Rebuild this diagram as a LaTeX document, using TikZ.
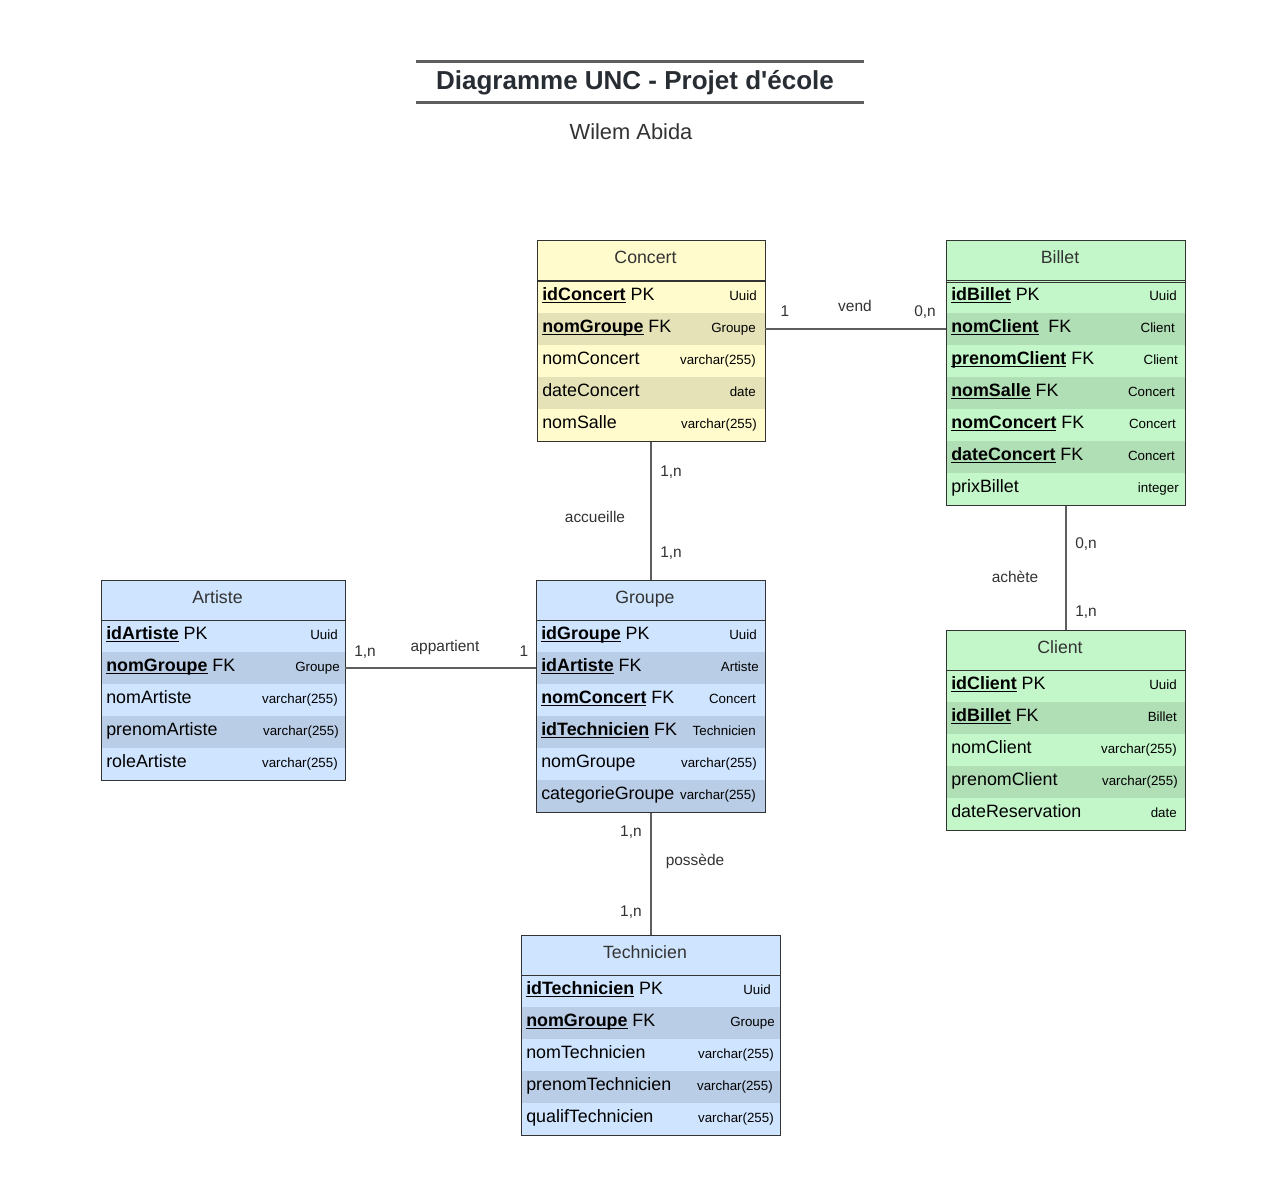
\documentclass[tikz,border=0pt]{standalone}
\usepackage{fontspec}
\setmainfont{Liberation Sans}
\newfontfamily\rawsans{Liberation Sans}
\usetikzlibrary{fit}
\definecolor{ylw}{HTML}{FFFBCC}
\definecolor{ylwd}{HTML}{E6E2B8}
\definecolor{grn}{HTML}{C3F7C9}
\definecolor{grnd}{HTML}{B0DEB5}
\definecolor{blu}{HTML}{CFE4FF}
\definecolor{blud}{HTML}{BACDE6}
\definecolor{bordc}{HTML}{333333}
\definecolor{connc}{HTML}{5E5E5E}
\definecolor{headc}{HTML}{333333}
\definecolor{titlec}{HTML}{282C33}
\newsavebox{\mykbox}
\newcommand\kb[1]{\sbox\mykbox{\textbf{#1}}\rlap{\rule[-2.5pt]{\wd\mykbox}{1.2pt}}\usebox\mykbox}
\tikzset{
  lt/.style={font=\fontsize{13.4}{15}\selectfont, inner sep=0pt, text=black},
  rt/.style={font=\fontsize{10}{12}\selectfont, inner sep=0pt, text=black},
  ht/.style={font=\fontsize{13.3}{15}\selectfont, inner sep=0pt, text=headc},
  lbl/.style={font=\fontsize{11.6}{14}\selectfont, inner sep=0pt, text=headc},
  rowbg/.style={inner sep=0pt, draw=none},
  tblborder/.style={inner sep=0pt, draw=bordc, line width=0.75pt},
  conn/.style={draw=connc, line width=1.5pt},
  titleline/.style={draw=connc, line width=2.25pt}
}
% #1 name #2 idx #3 left #4 right #5 header bottom #6 fill #7 left text #8 type text #9 right offset
\newcommand\trow[9]{%
  \node[rowbg, fill=#6, fit={(#3,{#5+32*(#2-1)}) (#4,{#5+32*#2})}] (#1-r#2) {};
  \node[lt, anchor=base west] (#1-r#2-l) at ({#3+5},{#5+32*(#2-1)+19}) {#7};
  \node[rt, anchor=base east] (#1-r#2-t) at ({#4-#9},{#5+32*(#2-1)+19}) {#8};
}
% #1 name #2 left #3 right #4 top #5 header bottom #6 fill #7 title
\newcommand\thead[7]{%
  \node[rowbg, fill=#6, fit={(#2,#4) (#3,#5)}] (#1-h) {};
  \node[ht, anchor=base] (#1-title) at ({(#2+#3)/2-5.5},{#4+23.3}) {#7};
}
\begin{document}
\begin{tikzpicture}[x=0.75pt, y=-0.75pt]
\useasboundingbox[fill=white] (0,0) rectangle (1286,1190);

% Title
\draw[titleline] (416,61) -- (864,61);
\draw[titleline] (416,102) -- (864,102);
\node[inner sep=0pt, anchor=base, text=titlec, font=\rawsans\fontsize{19.5}{22}\selectfont\bfseries] (title) at (635,89) {Diagramme UNC - Projet d'école};
\node[inner sep=0pt, anchor=base, text=headc, font=\fontsize{16.4}{19}\selectfont] (author) at (631,139) {Wilem Abida};

% Concert
\thead{concert}{537}{765}{240}{281}{ylw}{Concert}
\trow{concert}{1}{537}{765}{281}{ylw}{\kb{idConcert} PK}{Uuid}{8}
\trow{concert}{2}{537}{765}{281}{ylwd}{\kb{nomGroupe} FK}{Groupe}{9}
\trow{concert}{3}{537}{765}{281}{ylw}{nomConcert}{varchar(255)}{9}
\trow{concert}{4}{537}{765}{281}{ylwd}{dateConcert}{date}{9}
\trow{concert}{5}{537}{765}{281}{ylw}{nomSalle}{varchar(255)}{8}
\node[tblborder, fit={(537,240) (765,441)}] (concert) {};
\draw[draw=bordc, line width=1.5pt] (concert-h.south west) -- (concert-h.south east);

% Billet
\thead{billet}{946}{1185}{240}{281}{grn}{Billet}
\trow{billet}{1}{946}{1185}{281}{grn}{\kb{idBillet} PK}{Uuid}{8}
\trow{billet}{2}{946}{1185}{281}{grnd}{\kb{nomClient}\hspace{0.55em}FK}{Client}{10}
\trow{billet}{3}{946}{1185}{281}{grn}{\kb{prenomClient} FK}{Client}{7}
\trow{billet}{4}{946}{1185}{281}{grnd}{\kb{nomSalle} FK}{Concert}{10}
\trow{billet}{5}{946}{1185}{281}{grn}{\kb{nomConcert} FK}{Concert}{9}
\trow{billet}{6}{946}{1185}{281}{grnd}{\kb{dateConcert} FK}{Concert}{10}
\trow{billet}{7}{946}{1185}{281}{grn}{prixBillet}{integer}{6}
\node[tblborder, fit={(946,240) (1185,505)}] (billet) {};
\draw[draw=bordc, line width=0.75pt] ([yshift=0.9pt]billet-h.south west) -- ([yshift=0.9pt]billet-h.south east);
\draw[draw=bordc, line width=0.75pt] ([yshift=-0.9pt]billet-h.south west) -- ([yshift=-0.9pt]billet-h.south east);

% Artiste
\thead{artiste}{101}{345}{580}{620}{blu}{Artiste}
\trow{artiste}{1}{101}{345}{620}{blu}{\kb{idArtiste} PK}{Uuid}{7}
\trow{artiste}{2}{101}{345}{620}{blud}{\kb{nomGroupe} FK}{Groupe}{5}
\trow{artiste}{3}{101}{345}{620}{blu}{nomArtiste}{varchar(255)}{7}
\trow{artiste}{4}{101}{345}{620}{blud}{prenomArtiste}{varchar(255)}{6}
\trow{artiste}{5}{101}{345}{620}{blu}{roleArtiste}{varchar(255)}{7}
\node[tblborder, fit={(101,580) (345,780)}] (artiste) {};
\draw[draw=bordc, line width=0.75pt] (artiste-h.south west) -- (artiste-h.south east);

% Groupe
\thead{groupe}{536}{765}{580}{620}{blu}{Groupe}
\trow{groupe}{1}{536}{765}{620}{blu}{\kb{idGroupe} PK}{Uuid}{8}
\trow{groupe}{2}{536}{765}{620}{blud}{\kb{idArtiste} FK}{Artiste}{6}
\trow{groupe}{3}{536}{765}{620}{blu}{\kb{nomConcert} FK}{Concert}{9}
\trow{groupe}{4}{536}{765}{620}{blud}{\kb{idTechnicien} FK}{Technicien}{9}
\trow{groupe}{5}{536}{765}{620}{blu}{nomGroupe}{varchar(255)}{8}
\trow{groupe}{6}{536}{765}{620}{blud}{categorieGroupe}{varchar(255)}{9}
\node[tblborder, fit={(536,580) (765,812)}] (groupe) {};
\draw[draw=bordc, line width=0.75pt] (groupe-h.south west) -- (groupe-h.south east);

% Client
\thead{client}{946}{1185}{630}{670}{grn}{Client}
\trow{client}{1}{946}{1185}{670}{grn}{\kb{idClient} PK}{Uuid}{8}
\trow{client}{2}{946}{1185}{670}{grnd}{\kb{idBillet} FK}{Billet}{8}
\trow{client}{3}{946}{1185}{670}{grn}{nomClient}{varchar(255)}{8}
\trow{client}{4}{946}{1185}{670}{grnd}{prenomClient}{varchar(255)}{7}
\trow{client}{5}{946}{1185}{670}{grn}{dateReservation}{date}{8}
\node[tblborder, fit={(946,630) (1185,830)}] (client) {};
\draw[draw=bordc, line width=0.75pt] (client-h.south west) -- (client-h.south east);

% Technicien
\thead{technicien}{521}{780}{935}{975}{blu}{Technicien}
\trow{technicien}{1}{521}{780}{975}{blu}{\kb{idTechnicien} PK}{Uuid}{9}
\trow{technicien}{2}{521}{780}{975}{blud}{\kb{nomGroupe} FK}{Groupe}{5}
\trow{technicien}{3}{521}{780}{975}{blu}{nomTechnicien}{varchar(255)}{6}
\trow{technicien}{4}{521}{780}{975}{blud}{prenomTechnicien}{varchar(255)}{7}
\trow{technicien}{5}{521}{780}{975}{blu}{qualifTechnicien}{varchar(255)}{6}
\node[tblborder, fit={(521,935) (780,1135)}] (technicien) {};
\draw[draw=bordc, line width=0.75pt] (technicien-h.south west) -- (technicien-h.south east);

% Connectors
\draw[conn] (concert-r2.east) -- (billet-r2.west);
\draw[conn] (artiste-r2.east) -- (groupe-r2.west);
\draw[conn] (concert.south) -- (concert.south |- groupe.north);
\draw[conn] (groupe.south) -- (groupe.south |- technicien.north);
\draw[conn] (billet.south) -- (billet.south |- client.north);

% Labels
\node[lbl, anchor=base] (v1) at (785,316.5) {1};
\node[lbl, anchor=base] (vn) at (855,311.5) {vend};
\node[lbl, anchor=base] (v2) at (925,316.5) {0,n};

\node[lbl, anchor=base] (a1) at (365,656.5) {1,n};
\node[lbl, anchor=base] (an) at (445,651) {appartient};
\node[lbl, anchor=base] (a2) at (524,656.5) {1};

\node[lbl, anchor=base west] (c1) at (660,476.5) {1,n};
\node[lbl, anchor=base] (cn) at (595,522.5) {accueille};
\node[lbl, anchor=base west] (c2) at (660,557.5) {1,n};

\node[lbl, anchor=base east] (p1) at (642,836.5) {1,n};
\node[lbl, anchor=base] (pn) at (695,865.5) {possède};
\node[lbl, anchor=base east] (p2) at (642,916.5) {1,n};

\node[lbl, anchor=base west] (h1) at (1075,548.5) {0,n};
\node[lbl, anchor=base] (hn) at (1015,582.5) {achète};
\node[lbl, anchor=base west] (h2) at (1075,616.5) {1,n};
\end{tikzpicture}
\end{document}
